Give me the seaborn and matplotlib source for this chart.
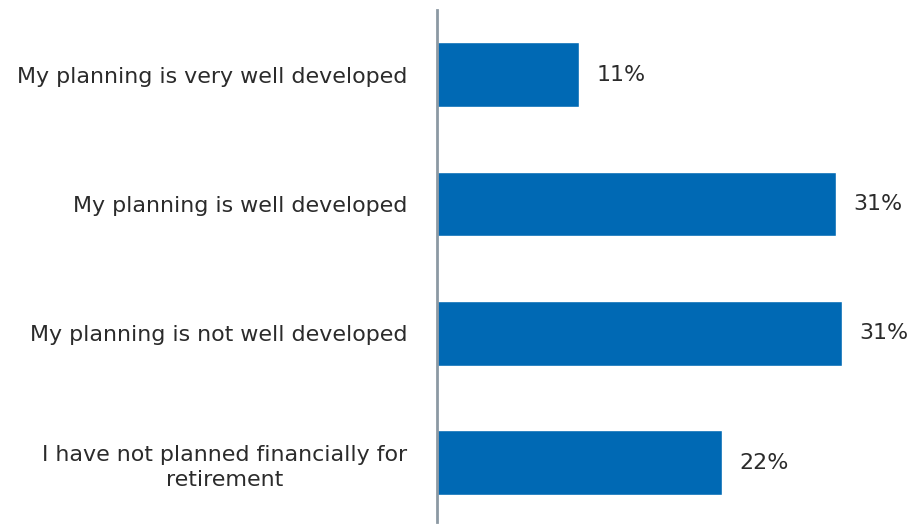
import matplotlib
matplotlib.use("Agg")
import matplotlib.pyplot as plt
import seaborn as sns
import pandas as pd

categories = [
    "My planning is very well developed",
    "My planning is well developed",
    "My planning is not well developed",
    "I have not planned financially for\nretirement",
]
shares = [11.0, 30.9, 31.4, 22.1]

df = pd.DataFrame({"category": categories, "share": shares})

sns.set_theme(style="white")
plt.rcParams["font.family"] = ["DejaVu Sans"]

fig = plt.figure(figsize=(9.13, 5.25), dpi=100)
ax = fig.add_axes([437 / 913, 3 / 525, 476 / 913, 512 / 525])

sns.barplot(data=df, x="share", y="category", orient="h",
            color="#0069B4", saturation=1, width=0.5, ax=ax)

ax.set_xlim(0, 36.9)
ax.set_ylim(3.46, -0.5)
ax.set_xlabel("")
ax.set_ylabel("")
ax.set_xticks([])

for side in ["top", "right", "bottom"]:
    ax.spines[side].set_visible(False)
ax.spines["left"].set_color("#8C99A3")
ax.spines["left"].set_linewidth(2)

ax.tick_params(axis="y", length=0, pad=21.5, labelcolor="#2B2B2B")
for lbl in ax.get_yticklabels():
    lbl.set_multialignment("center")
    lbl.set_fontsize(15.9)
    lbl.set_linespacing(1.35)

for i, v in enumerate(shares):
    ax.annotate(f"{v:.0f}%", xy=(v, i), xytext=(12.5, 0), textcoords="offset points",
                ha="left", va="center", fontsize=15.9, color="#2B2B2B")

fig.savefig("out.png", dpi=100)
